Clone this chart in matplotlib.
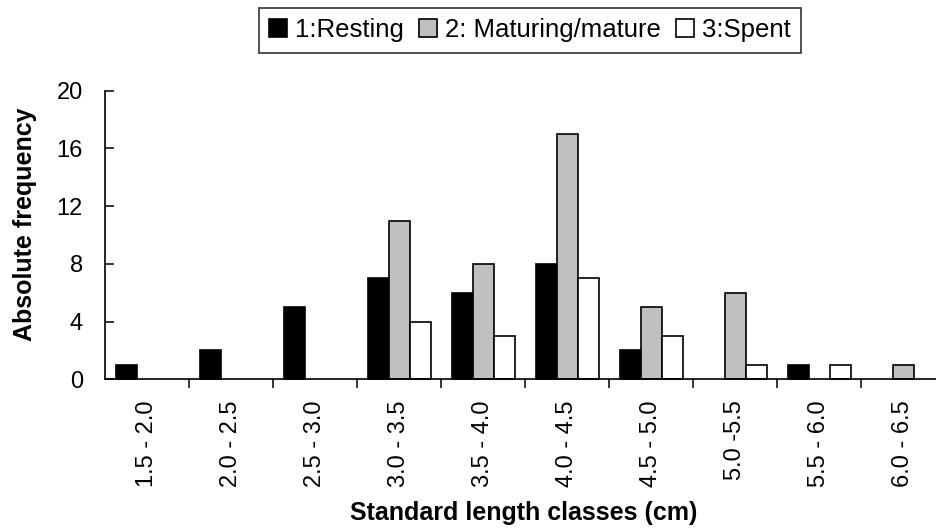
import matplotlib
matplotlib.use("Agg")
import matplotlib.pyplot as plt
from matplotlib.patches import Patch
import numpy as np

categories = ["1.5 - 2.0", "2.0 - 2.5", "2.5 - 3.0", "3.0 - 3.5", "3.5 - 4.0",
              "4.0 - 4.5", "4.5 - 5.0", "5.0 -5.5", "5.5 - 6.0", "6.0 - 6.5"]
resting = [1, 2, 5, 7, 6, 8, 2, 0, 1, 0]
maturing = [0, 0, 0, 11, 8, 17, 5, 6, 0, 1]
spent = [0, 0, 0, 4, 3, 7, 3, 1, 1, 0]
series_names = ["1:Resting", "2: Maturing/mature", "3:Spent"]
y_ticks = [0, 4, 8, 12, 16, 20]

plt.rcParams['font.family'] = ['Liberation Sans', 'DejaVu Sans']

W, H = 936, 531
fig = plt.figure(figsize=(W / 100, H / 100), dpi=100)
ax = fig.add_axes([105 / W, 1 - 379.3 / H, 840 / W, (379.3 - 90.7) / H])

x = np.arange(len(categories))
bw = 0.25
colors = ["#000000", "#c0c0c0", "#ffffff"]
handles = []
for k, (vals, c, name) in enumerate(zip([resting, maturing, spent], colors, series_names)):
    b = ax.bar(x + (k - 1) * bw, vals, width=bw, color=c, edgecolor="black",
               linewidth=1.2, label=name, clip_on=False)
    for rect, v in zip(b.patches, vals):
        if v == 0:
            rect.set_linewidth(0)
    handles.append(Patch(facecolor=c, edgecolor="black", linewidth=1.2))

ax.set_xlim(-0.5, len(categories) - 0.5)
ax.set_ylim(0, 20)
ax.set_yticks(y_ticks)
ax.set_yticklabels([str(t) for t in y_ticks])
ax.tick_params(axis="y", direction="in", length=6.5, width=1.1, labelsize=17, pad=16)

ax.set_xticks(x)
ax.set_xticklabels(categories, rotation=90, va="top", ha="center")
ax.tick_params(axis="x", which="major", length=0, labelsize=17, pad=15)
ax.set_xticks(np.arange(len(categories)) + 0.5, minor=True)
ax.tick_params(axis="x", which="minor", direction="out", length=6.5, width=1.1)

for s in ["top", "right"]:
    ax.spines[s].set_visible(False)
for s in ["left", "bottom"]:
    ax.spines[s].set_linewidth(1.2)
    ax.spines[s].set_zorder(5)

fig.text(25 / W, 1 - 224 / H, "Absolute frequency", rotation=90, ha="center",
         va="center", fontsize=18, fontweight="bold")
fig.text(524 / W, 1 - 513 / H, "Standard length classes (cm)", ha="center",
         va="center", fontsize=18, fontweight="bold")

leg = fig.legend(handles=handles, labels=series_names, loc="upper center",
                 bbox_to_anchor=(530 / W, 1 - 8 / H), ncol=3, fontsize=18.5,
                 frameon=True, fancybox=False, handlelength=0.7, handleheight=0.7,
                 handletextpad=0.3, columnspacing=0.6, borderpad=0.4,
                 borderaxespad=0)
leg.get_frame().set_edgecolor("black")
leg.get_frame().set_linewidth(1.2)

fig.savefig("out.png", dpi=100)
